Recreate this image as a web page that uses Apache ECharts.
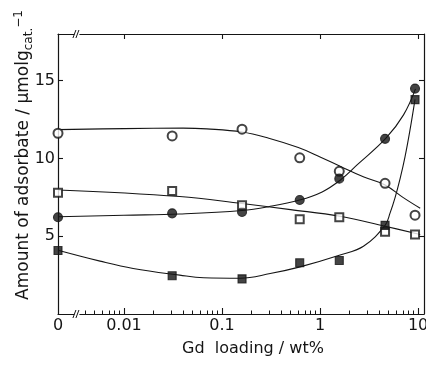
<!DOCTYPE html>
<html><head><meta charset="utf-8">
<script src="https://cdn.jsdelivr.net/npm/echarts@6/dist/echarts.min.js"></script>
<style>html,body{margin:0;padding:0;background:#fff}#c{width:426px;height:367px}</style>
</head><body><div id="c"></div>
<script>
// ---- axis description ----
const X_ZERO = -2.673;   // log10 position where "0 wt%" is drawn (left edge)
const X_MAX = 1.06;
const X_BREAK = -2.48;   // where the axis break mark sits
const MAJOR_TICKS = [0.01, 0.1, 1, 10];
const MINOR_TICKS = [0.004,0.005,0.006,0.007,0.008,0.009,
  0.02,0.03,0.04,0.05,0.06,0.07,0.08,0.09,
  0.2,0.3,0.4,0.5,0.6,0.7,0.8,0.9,
  2,3,4,5,6,7,8,9];
const X_LABELS = ['0','0.01','0.1','1','10'];
const Y_TICKS = [5,10,15];
const Y_MIN = 0, Y_MAX = 18;
const X_TITLE = 'Gd  loading / wt%';
const Y_TITLE = 'Amount of adsorbate / \u03bcmolg{sub|cat.}{sup|\u22121}';

// ---- measured points ----
const loading      = [0, 0.031, 0.16, 0.62, 1.57, 4.6, 9.3];
const openCircle   = [11.62, 11.45, 11.88, 10.04, 9.17, 8.4, 6.35];
const filledCircle = [6.22, 6.47, 6.56, 7.33, 8.7, 11.26, 14.49];
const openSquare   = [7.8, 7.9, 6.99, 6.09, 6.22, 5.28, 5.11];
const filledSquare = [4.08, 2.46, 2.26, 3.29, 3.44, 5.7, 13.78];

// ---- fitted curves ----
const ocCurveX = [0, 0.01, 0.04, 0.07, 0.16, 0.3, 0.6, 1.0, 1.6, 2.8, 4.6, 7, 10.5];
const ocCurveY = [11.85, 11.92, 11.95, 11.9, 11.7, 11.3, 10.7, 10.1, 9.5, 8.8, 8.3, 7.5, 6.8];
const fcCurveX = [0, 0.01, 0.037, 0.16, 0.3, 0.62, 1.05, 1.6, 2.4, 4.7, 7.1, 9.4];
const fcCurveY = [6.25, 6.35, 6.43, 6.65, 6.9, 7.33, 7.85, 8.6, 9.6, 11.3, 12.8, 14.47];
const osCurveX = [0, 0.037, 0.16, 0.5, 1.6, 4.6, 10.5];
const osCurveY = [7.97, 7.55, 7.1, 6.71, 6.28, 5.64, 5.11];
const fsCurveX = [0, 0.0057, 0.0124, 0.037, 0.065, 0.153, 0.31, 0.625, 1.57, 2.77, 4.6, 5.18, 5.83, 6.55, 7.35, 8.25, 9.3];
const fsCurveY = [4.1, 3.4, 2.93, 2.5, 2.33, 2.3, 2.6, 3.03, 3.78, 4.36, 5.7, 6.5, 7.5, 8.7, 10.1, 11.8, 13.8];

const toX = v => v === 0 ? X_ZERO : Math.log10(v);
const pairs = (xs, ys) => xs.map((x, i) => [toX(x), ys[i]]);

const INK = '#151515';
const FONT = 'DejaVu Sans';
const majorPos = MAJOR_TICKS.map(toX);
const labelPos = [X_ZERO].concat(majorPos);

const chart = echarts.init(document.getElementById('c'), null, {renderer: 'canvas'});

const curve = (xs, ys) => ({
  type: 'line', data: pairs(xs, ys), xAxisIndex: 0, yAxisIndex: 0,
  showSymbol: false, smooth: 0.4,
  lineStyle: {color: INK, width: 1.1}, silent: true, z: 2
});
const marks = (ys, symbol, size) => ({
  type: 'scatter', data: pairs(loading, ys), xAxisIndex: 0, yAxisIndex: 0,
  symbol: symbol, symbolSize: size,
  itemStyle: {color: INK, borderColor: INK, borderWidth: 1.1}, z: 5
});

const axisLineStyle = {show: true, onZero: false, lineStyle: {color: INK, width: 1.2}};

chart.setOption({
  animation: false,
  backgroundColor: '#fff',
  grid: {left: 58, right: 2, top: 34, bottom: 53, containLabel: false, outerBoundsMode: 'none'},
  textStyle: {fontFamily: FONT, color: INK},
  xAxis: [
    { type: 'value', position: 'bottom', min: X_ZERO, max: X_MAX,
      axisLine: axisLineStyle,
      axisTick: {inside: true, length: 6, lineStyle: {color: INK, width: 1.1}, customValues: majorPos},
      axisLabel: {customValues: labelPos, margin: 4, fontSize: 16, fontFamily: FONT, color: INK,
        formatter: v => { const i = labelPos.findIndex(p => Math.abs(p - v) < 1e-6); return i >= 0 ? X_LABELS[i] : ''; }},
      splitLine: {show: false},
      name: X_TITLE, nameLocation: 'middle', nameGap: 27, nameMoveOverlap: false,
      nameTextStyle: {fontSize: 16, fontFamily: FONT, color: INK, padding: [0, 0, 0, 24]}
    },
    { type: 'value', position: 'bottom', min: X_ZERO, max: X_MAX,
      axisLine: {show: false, onZero: false},
      axisTick: {inside: true, length: 3.5, lineStyle: {color: INK, width: 1}, customValues: MINOR_TICKS.map(toX)},
      axisLabel: {show: false}, splitLine: {show: false}
    },
    { type: 'value', position: 'top', min: X_ZERO, max: X_MAX,
      axisLine: axisLineStyle,
      axisTick: {inside: true, length: 5, lineStyle: {color: INK, width: 1.1}, customValues: majorPos},
      axisLabel: {show: false}, splitLine: {show: false}
    }
  ],
  yAxis: [
    { type: 'value', position: 'left', min: Y_MIN, max: Y_MAX,
      axisLine: axisLineStyle,
      axisTick: {show: true, inside: true, length: 5, lineStyle: {color: INK, width: 1.1}, customValues: Y_TICKS},
      axisLabel: {customValues: Y_TICKS, margin: 3, fontSize: 16, fontFamily: FONT, color: INK},
      splitLine: {show: false}
    },
    { type: 'value', position: 'right', min: Y_MIN, max: Y_MAX,
      axisLine: axisLineStyle,
      axisTick: {show: true, inside: true, length: 5, lineStyle: {color: INK, width: 1.1}, customValues: Y_TICKS},
      axisLabel: {show: false}, splitLine: {show: false}
    }
  ],
  series: [
    curve(ocCurveX, ocCurveY),
    curve(fcCurveX, fcCurveY),
    curve(osCurveX, osCurveY),
    curve(fsCurveX, fsCurveY),
    marks(openCircle, 'emptyCircle', 9),
    marks(filledCircle, 'circle', 9),
    marks(openSquare, 'emptyRect', 8),
    marks(filledSquare, 'rect', 8)
  ]
});

// axis-break marks on bottom and top axes, and the y-axis title
const bx = chart.convertToPixel({xAxisIndex: 0}, X_BREAK);
const yb = chart.convertToPixel({yAxisIndex: 0}, Y_MIN);
const yt = chart.convertToPixel({yAxisIndex: 0}, Y_MAX);
const breakMark = y => [
  {type: 'rect', shape: {x: bx - 2.5, y: y - 2, width: 5, height: 4}, style: {fill: '#fff'}, z: 10},
  {type: 'line', shape: {x1: bx - 4, y1: y + 4, x2: bx - 1, y2: y - 4}, style: {stroke: INK, lineWidth: 1}, z: 11},
  {type: 'line', shape: {x1: bx - 1, y1: y + 4, x2: bx + 2, y2: y - 4}, style: {stroke: INK, lineWidth: 1}, z: 11}
];
const yTitle = {
  type: 'text', x: 24, y: 155, rotation: Math.PI / 2, z: 20,
  style: {
    text: Y_TITLE, fill: INK, font: '17px "DejaVu Sans"', align: 'center', verticalAlign: 'middle', lineHeight: 22,
    rich: {
      sub: {fontSize: 12, fontFamily: FONT, fill: INK, lineHeight: 12, verticalAlign: 'bottom'},
      sup: {fontSize: 12, fontFamily: FONT, fill: INK, lineHeight: 12, verticalAlign: 'top'}
    }
  }
};
chart.setOption({graphic: breakMark(yb).concat(breakMark(yt)).concat([yTitle])});
</script>
</body></html>
